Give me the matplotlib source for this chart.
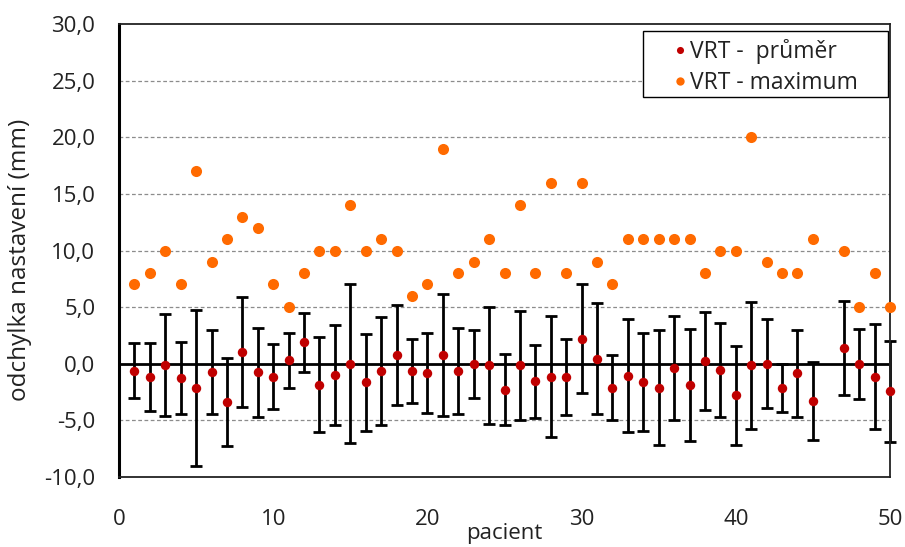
import numpy as np
import matplotlib
matplotlib.use("Agg")
import matplotlib.pyplot as plt
from matplotlib.patches import Rectangle
from matplotlib.ticker import FuncFormatter

plt.rcParams['font.family'] = ['Open Sans', 'DejaVu Sans']

# patient numbers (no record for patient 46)
patients = list(range(1, 51))

mean_dev = [-0.6, -1.2, -0.15, -1.25, -2.15, -0.75, -3.35, 1.05, -0.75, -1.15,
            0.3, 1.9, -1.85, -1.0, 0.0, -1.65, -0.65, 0.8, -0.65, -0.8,
            0.8, -0.65, 0.0, -0.15, -2.3, -0.15, -1.55, -1.15, -1.2, 2.2,
            0.45, -2.1, -1.05, -1.6, -2.1, -0.35, -1.85, 0.25, -0.55, -2.8,
            -0.15, 0.0, -2.15, -0.85, -3.3, np.nan, 1.4, 0.0, -1.15, -2.45]

sd_dev = [2.4, 3.0, 4.5, 3.15, 6.9, 3.7, 3.9, 4.85, 3.95, 2.85,
          2.4, 2.6, 4.2, 4.45, 7.0, 4.25, 4.8, 4.4, 2.85, 3.55,
          5.4, 3.8, 3.0, 5.15, 3.15, 4.8, 3.2, 5.35, 3.35, 4.8,
          4.9, 2.85, 5.0, 4.3, 5.05, 4.6, 4.95, 4.3, 4.15, 4.4,
          5.6, 3.95, 2.15, 3.85, 3.45, np.nan, 4.15, 3.1, 4.65, 4.45]

max_dev = [7, 8, 10, 7, 17, 9, 11, 13, 12, 7,
           5, 8, 10, 10, 14, 10, 11, 10, 6, 7,
           19, 8, 9, 11, 8, 14, 8, 16, 8, 16,
           9, 7, 11, 11, 11, 11, 11, 8, 10, 10,
           20, 9, 8, 8, 11, np.nan, 10, 5, 8, 5]

x_ticks = [0, 10, 20, 30, 40, 50]
y_ticks = [-10, -5, 0, 5, 10, 15, 20, 25, 30]

W, H = 905, 547
fig = plt.figure(figsize=(W / 100, H / 100), dpi=100)
ax = fig.add_axes([119 / W, 1 - 477 / H, (890 - 119) / W, (477 - 24) / H])

ax.set_xlim(0, 50)
ax.set_ylim(-10, 30)

# dashed horizontal gridlines
for v in [-5, 5, 10, 15, 20, 25]:
    ax.axhline(v, color='#8c8c8c', lw=0.9, ls=(0, (3, 2)), zorder=0)
ax.axhline(0, color='black', lw=2.0, zorder=1)

ax.errorbar(patients, mean_dev, yerr=sd_dev, fmt='none', ecolor='black',
            elinewidth=2.0, capsize=4.5, capthick=2.0, zorder=2, clip_on=False)
ax.plot(patients, mean_dev, 'o', color='#C00000', markersize=6.8,
        markeredgewidth=0, zorder=3, clip_on=False, label='VRT -  průměr')
ax.plot(patients, max_dev, 'o', color='#FF6A00', markersize=8.0,
        markeredgewidth=0, zorder=3, clip_on=False, label='VRT - maximum')

ax.set_xticks(x_ticks)
ax.set_yticks(y_ticks)
ax.yaxis.set_major_formatter(FuncFormatter(lambda v, p: f"{v:.1f}".replace('.', ',')))
ax.tick_params(axis='both', length=0, labelsize=16, colors='#222222')
ax.tick_params(axis='x', pad=23)
ax.tick_params(axis='y', pad=17)

ax.set_xlabel('pacient', fontsize=16, color='#222222', labelpad=-5)
ax.set_ylabel('odchylka nastavení (mm)', fontsize=17.5, color='#222222')
ax.yaxis.set_label_coords(-0.113, 0.479)

for side in ['top', 'right', 'bottom']:
    ax.spines[side].set_linewidth(1.3)
    ax.spines[side].set_color('#222222')
ax.spines['left'].set_linewidth(2.2)
ax.spines['left'].set_color('black')

# legend box drawn as a separate rectangle around the entries
ax.add_patch(Rectangle((643 / W, 1 - 97 / H), (888 - 643) / W, (97 - 31) / H,
                       transform=fig.transFigure, facecolor='white',
                       edgecolor='black', lw=1.0, zorder=5, clip_on=False))
leg = ax.legend(loc='upper left', bbox_to_anchor=(674 / W, 1 - 39 / H),
                bbox_transform=fig.transFigure, fontsize=16.5, frameon=False,
                borderpad=0, handlelength=0.5, handletextpad=0.2,
                labelspacing=0.3, borderaxespad=0, markerscale=0.75)
leg.set_zorder(6)
for t in leg.get_texts():
    t.set_color('#222222')

fig.savefig('out.png', dpi=100)
